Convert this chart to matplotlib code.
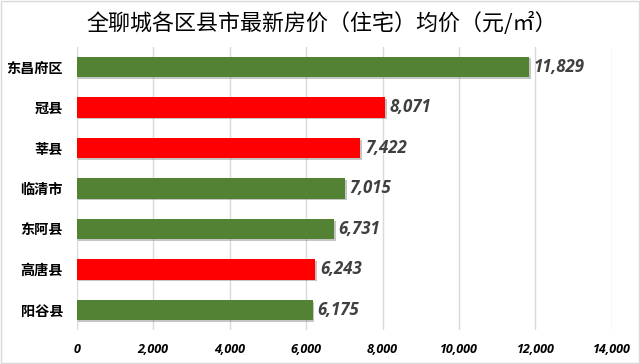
import matplotlib
matplotlib.use("Agg")
import matplotlib.pyplot as plt
import matplotlib.patheffects as pe
from matplotlib.patches import Rectangle

plt.rcParams['font.family'] = ['Noto Sans CJK SC', 'DejaVu Sans']

categories = ["东昌府区", "冠县", "莘县", "临清市", "东阿县", "高唐县", "阳谷县"]
values = [11829, 8071, 7422, 7015, 6731, 6243, 6175]
colors = ["#548235", "#FF0000", "#FF0000", "#548235", "#548235", "#FF0000", "#548235"]
xticks = [0, 2000, 4000, 6000, 8000, 10000, 12000, 14000]
title = "全聊城各区县市最新房价（住宅）均价（元/㎡）"

fig = plt.figure(figsize=(6.4, 3.64), dpi=100)
ax = fig.add_axes([0.120, 0.0927, 0.836, 0.779])

ypos = list(range(len(categories)))
bars = ax.barh(ypos, values, height=0.5, color=colors, zorder=3)
for b in bars:
    b.set_path_effects([pe.SimplePatchShadow(offset=(1.2, -1.2), shadow_rgbFace='#808080', alpha=0.45), pe.Normal()])

for y, v in zip(ypos, values):
    ax.text(v + 120, y, f"{v:,}", va='center', ha='left', fontsize=12.2,
            fontweight='bold', fontstyle='italic', color='#404040',
            family=['Open Sans', 'DejaVu Sans'])

ax.set_xlim(0, 14000)
ax.set_ylim(len(categories) - 0.5, -0.5)
ax.set_xticks(xticks)
ax.set_xticklabels([f"{t:,}" for t in xticks], fontsize=9, fontweight='bold',
                   fontstyle='italic', family=['Open Sans', 'DejaVu Sans'])
ax.set_yticks(ypos)
ax.set_yticklabels(categories, fontsize=10.2, fontweight='bold')
ax.tick_params(axis='both', length=0)
ax.tick_params(axis='x', pad=9)
ax.tick_params(axis='y', pad=10)
for s in ax.spines.values():
    s.set_visible(False)
ax.grid(axis='x', color='#D9D9D9', linewidth=1, zorder=0)
ax.set_axisbelow(True)

fig.text(0.503, 0.935, title, ha='center', va='center', fontsize=15.8, fontweight='medium')
fig.patches.append(Rectangle((0.002, 0.003), 0.996, 0.994, transform=fig.transFigure,
                             fill=False, edgecolor='#D9D9D9', linewidth=1))
fig.savefig("out.png", dpi=100)
